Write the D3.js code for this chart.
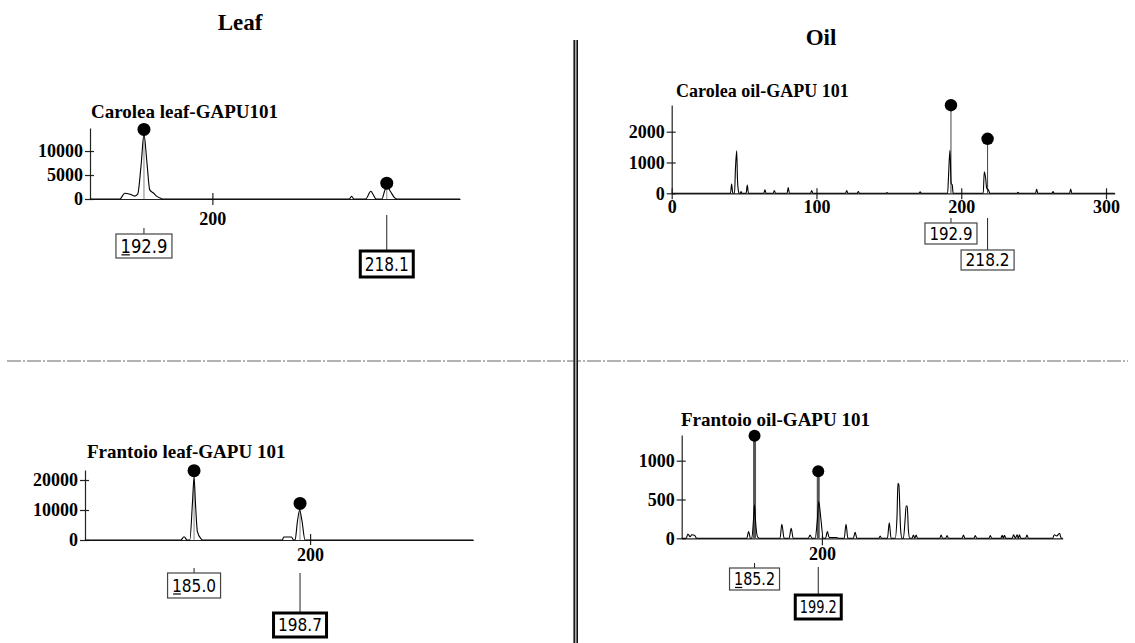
<!DOCTYPE html>
<html>
<head>
<meta charset="utf-8">
<script src="https://cdn.jsdelivr.net/npm/d3@7"></script>
<style>
body { margin: 0; background: #fff; }
svg { display: block; }
.tick text { font-family: "Liberation Serif", "Times New Roman", serif; font-weight: bold; font-size: 18px; fill: #000; }
.ttl { font-family: "Liberation Serif", "Times New Roman", serif; font-weight: bold; fill: #000; }
.lbl { font-family: "DejaVu Sans", Verdana, sans-serif; fill: #000; }
</style>
</head>
<body>
<svg id="fig" width="1135" height="643"></svg>
<script>
// column headers
var columnTitles = ["Leaf", "Oil"];

// Carolea leaf - GAPU101 (size bp, rfu)
var caroleaLeafTrace = [[187.3,0],[190.4,0],[190.9,1200],[191.45,1000],[191.95,600],[192.25,1000],[192.6,7000],[192.9,13500],[193.2,7800],[193.5,1900],[193.85,1300],[194.2,600],[194.7,100],[194.9,0],
  [214.2,0],[214.45,550],[214.7,0],[215.9,0],[216.45,1600],[216.7,900],[216.98,0],
  [217.6,0],[217.85,1500],[218.1,2700],[218.5,1500],[218.9,300],[219.2,0],[225.7,0]];
var caroleaLeafAlleles = [192.9, 218.1];
var caroleaLeafAlleleRfu = [14500, 3300];
var caroleaLeafLabels = ["192.9", "218.1"];
var caroleaLeafYTicks = [0, 5000, 10000];
var caroleaLeafXTicks = [200];

// Carolea oil - GAPU 101
var caroleaOilTrace = [[0,0],
  [40.6,0],[41.4,300],[42.2,0],
  [43.4,0],[44.0,760],[44.9,1380],[45.4,500],[46.0,100],[46.6,0],
  [47.4,0],[47.9,60],[48.4,0],
  [51.4,0],[52.2,270],[53.0,0],
  [63.6,0],[64.4,110],[65.2,0],
  [70.1,0],[70.9,90],[71.7,0],
  [79.7,0],[80.5,190],[81.3,0],
  [95.9,0],[96.7,90],[97.5,0],
  [120.1,0],[120.9,90],[121.7,0],
  [128.1,0],[128.9,60],[129.7,0],
  [147.9,0],[148.7,25],[149.5,0],
  [170.8,0],[171.6,45],[172.4,0],
  [190.6,0],[191.2,540],[192.2,1400],[193.0,330],[193.8,270],[194.4,0],
  [215.2,0],[215.9,700],[216.9,480],[217.6,160],[218.7,110],[219.9,0],
  [238.4,0],[239.2,30],[240.0,0],
  [251.3,0],[252.1,130],[252.9,0],
  [262.6,0],[263.4,55],[264.2,0],
  [274.8,0],[275.6,140],[276.4,0],[306,0]];
var caroleaOilAlleles = [192.9, 218.2];
var caroleaOilAlleleRfu = [2860, 1770];
var caroleaOilLabels = ["192.9", "218.2"];
var caroleaOilYTicks = [0, 1000, 2000];
var caroleaOilXTicks = [0, 100, 200, 300];

// Frantoio leaf - GAPU 101
var frantoioLeafTrace = [[170.9,0],
  [183.3,0],[183.7,1100],[184.1,0],
  [184.45,0],[184.8,12800],[185.0,21000],[185.17,12800],[185.43,2800],[185.9,400],[186.1,0],
  [196.4,0],[196.6,1000],[197.6,1000],[197.85,0],
  [198.06,0],[198.36,6100],[198.65,10000],[198.93,6700],[199.35,0],[221.1,0]];
var frantoioLeafAlleles = [185.0, 198.7];
var frantoioLeafAlleleRfu = [23100, 12200];
var frantoioLeafLabels = ["185.0", "198.7"];
var frantoioLeafYTicks = [0, 10000, 20000];
var frantoioLeafXTicks = [200];

// Frantoio oil - GAPU 101
var frantoioOilTrace = [[169.2,0],
  [170.2,0],[170.55,55],[171.05,20],[171.4,45],[172.0,40],[172.5,0],
  [183.5,0],[183.9,86],[184.3,0],
  [184.6,0],[184.97,236],[185.2,430],[185.4,236],[185.85,21],[186.3,0],
  [190.8,0],[191.2,180],[191.7,0],
  [192.8,0],[193.25,130],[193.7,0],
  [197.0,0],[197.4,43],[197.8,0],
  [198.5,0],[199.0,236],[199.3,473],[199.8,236],[200.3,0],
  [200.8,0],[201.2,86],[201.6,10],[203.3,10],[203.6,0],
  [204.9,0],[205.3,180],[205.7,0],
  [206.9,0],[207.3,77],[207.7,0],
  [212.5,0],[212.8,30],[213.1,0],
  [214.4,0],[214.8,200],[215.2,0],
  [216.1,0],[216.5,280],[216.7,710],[216.9,690],[217.3,107],[217.6,0],
  [217.9,0],[218.3,258],[218.5,417],[218.75,417],[219.0,107],[219.3,0],
  [219.8,0],[220.1,43],[220.4,0],[220.7,43],[221.0,0],
  [225.9,0],[226.2,43],[226.5,0],
  [227.2,0],[227.5,35],[227.8,0],
  [230.8,0],[231.1,43],[231.4,0],
  [233.4,0],[233.7,35],[234.0,0],
  [236.7,0],[237.0,35],[237.3,0],
  [239.3,0],[239.6,40],[239.85,0],[240.1,40],[240.4,0],
  [241.8,0],[242.1,45],[242.5,0],[242.9,45],[243.15,0],[243.4,45],[243.7,0],
  [244.75,0],[245.05,43],[245.35,0],
  [250.7,0],[251.05,45],[251.6,30],[252.2,65],[252.6,0],[252.9,0]];
var frantoioOilAlleles = [185.2, 199.2];
var frantoioOilAlleleRfu = [1320, 865];
var frantoioOilLabels = ["185.2", "199.2"];
var frantoioOilYTicks = [0, 500, 1000];
var frantoioOilXTicks = [200];

var svg = d3.select("#fig");

// panel setup
var panels = [
  {title: "Carolea leaf-GAPU101", tx: 91, ty: 118, ts: 19,
   left: 90, right: 460, base: 199, top: 128, xDomain: [187.3, 225.7], yMax: 14800,
   trace: caroleaLeafTrace, alleles: caroleaLeafAlleles, rfu: caroleaLeafAlleleRfu, labels: caroleaLeafLabels,
   yTicks: caroleaLeafYTicks, xTicks: caroleaLeafXTicks, up: 6, down: 6, pad: 7,
   r: 6.5, stemW: 1.2, stemC: "#999",
   boxes: [{top: 234, h: 24, w: 56, lead: 228, bold: false, ul: true, fs: 19},
           {top: 251, h: 26, w: 53, lead: 215, bold: true, ul: false, fs: 19}]},
  {title: "Carolea oil-GAPU 101", tx: 676, ty: 97, ts: 18,
   left: 671.7, right: 1114.7, base: 193.3, top: 105, xDomain: [0, 306], yMax: 2867,
   trace: caroleaOilTrace, alleles: caroleaOilAlleles, rfu: caroleaOilAlleleRfu, labels: caroleaOilLabels,
   yTicks: caroleaOilYTicks, xTicks: caroleaOilXTicks, up: 5, down: 6, pad: 1,
   r: 6.2, stemW: 1, stemC: "#444",
   boxes: [{top: 223, h: 21, w: 52, lead: 218, bold: false, ul: false, fs: 17},
           {top: 250, h: 20, w: 53, lead: 218, bold: false, ul: false, fs: 17}]},
  {title: "Frantoio leaf-GAPU 101", tx: 87, ty: 458, ts: 19,
   left: 85, right: 473.3, base: 540, top: 470, xDomain: [170.9, 221.1], yMax: 23333,
   trace: frantoioLeafTrace, alleles: frantoioLeafAlleles, rfu: frantoioLeafAlleleRfu, labels: frantoioLeafLabels,
   yTicks: frantoioLeafYTicks, xTicks: frantoioLeafXTicks, up: 6, down: 5, pad: 3,
   r: 6.5, stemW: 1.2, stemC: "#999",
   boxes: [{top: 573, h: 25, w: 53, lead: 568, bold: false, ul: true, fs: 18},
           {top: 613, h: 24, w: 53, lead: 573, bold: true, ul: false, fs: 18}]},
  {title: "Frantoio oil-GAPU 101", tx: 681, ty: 426, ts: 19,
   left: 681.7, right: 1062.7, base: 538.3, top: 435, xDomain: [169.2, 252.9], yMax: 1331,
   trace: frantoioOilTrace, alleles: frantoioOilAlleles, rfu: frantoioOilAlleleRfu, labels: frantoioOilLabels,
   yTicks: frantoioOilYTicks, xTicks: frantoioOilXTicks, up: 3, down: 7, pad: 2,
   r: 6, stemW: 3, stemC: "#555",
   boxes: [{top: 568, h: 22, w: 50, lead: 563, bold: false, ul: true, fs: 18},
           {top: 595, h: 24, w: 46, lead: 567, bold: true, ul: false, fs: 18}]}
];

// dividers
svg.append("line").attr("x1", 7).attr("x2", 1128).attr("y1", 361).attr("y2", 361)
  .attr("stroke", "#666").attr("stroke-width", 1.2).attr("stroke-dasharray", "14,2,2,2");
svg.append("rect").attr("x", 573.5).attr("y", 40).attr("width", 4.5).attr("height", 603).attr("fill", "#aaa");
[574.2, 577.3].forEach(function(xx) {
  svg.append("line").attr("x1", xx).attr("x2", xx).attr("y1", 40).attr("y2", 643)
    .attr("stroke", "#111").attr("stroke-width", 1.4);
});

// column headings
svg.append("text").attr("class", "ttl").attr("x", 240).attr("y", 30).attr("text-anchor", "middle")
  .style("font-size", "23px").text(columnTitles[0]);
svg.append("text").attr("class", "ttl").attr("x", 821).attr("y", 45).attr("text-anchor", "middle")
  .style("font-size", "23px").text(columnTitles[1]);

panels.forEach(function(p) {
  var g = svg.append("g");
  var x = d3.scaleLinear().domain(p.xDomain).range([p.left, p.right]);
  var y = d3.scaleLinear().domain([0, p.yMax]).range([p.base, p.top]);

  g.append("text").attr("class", "ttl").attr("x", p.tx).attr("y", p.ty)
    .style("font-size", p.ts + "px").text(p.title);

  var ya = g.append("g").attr("transform", "translate(" + p.left + ",0)")
    .call(d3.axisLeft(y).tickValues(p.yTicks).tickSize(5).tickSizeOuter(0).tickPadding(2).tickFormat(d3.format("d")));
  ya.selectAll(".tick line").attr("x1", 4);

  var xa = g.append("g").attr("transform", "translate(0," + p.base + ")")
    .call(d3.axisBottom(x).tickValues(p.xTicks).tickSize(p.down).tickSizeOuter(0).tickPadding(p.pad).tickFormat(d3.format("d")));
  xa.selectAll(".tick line").attr("y1", -p.up);
  g.selectAll(".domain, .tick line").attr("stroke", "#222").attr("stroke-width", 1.2);

  // allele stems
  p.alleles.forEach(function(a, i) {
    g.append("line").attr("x1", x(a)).attr("x2", x(a)).attr("y1", y(p.rfu[i])).attr("y2", p.base)
      .attr("stroke", p.stemC).attr("stroke-width", p.stemW);
  });

  var line = d3.line().x(function(d) { return x(d[0]); }).y(function(d) { return y(d[1]); })
    .curve(d3.curveMonotoneX);
  g.append("path").datum(p.trace).attr("d", line)
    .attr("fill", "none").attr("stroke", "#000").attr("stroke-width", 1.1);

  g.selectAll("circle.dot").data(p.alleles).enter().append("circle")
    .attr("cx", function(d) { return x(d); })
    .attr("cy", function(d, i) { return y(p.rfu[i]); })
    .attr("r", p.r).attr("fill", "#000");

  // size labels
  p.labels.forEach(function(t, i) {
    var b = p.boxes[i], cx = x(p.alleles[i]), tl = b.w - 9;
    var bx = cx - tl / 2, by = b.top + b.h / 2 + b.fs * 0.36;
    g.append("line").attr("x1", cx).attr("x2", cx).attr("y1", b.lead).attr("y2", b.top)
      .attr("stroke", "#222").attr("stroke-width", 1);
    g.append("rect").attr("x", cx - b.w / 2).attr("y", b.top).attr("width", b.w).attr("height", b.h)
      .attr("fill", "#fff").attr("stroke", b.bold ? "#000" : "#444").attr("stroke-width", b.bold ? 3 : 1.2);
    g.append("text").attr("class", "lbl").attr("x", bx).attr("y", by)
      .style("font-size", b.fs + "px").attr("textLength", tl).attr("lengthAdjust", "spacingAndGlyphs")
      .text(t);
    if (b.ul) {
      // first digit is underlined in the original
      g.append("line").attr("x1", bx + 1).attr("x2", bx + tl * 0.2).attr("y1", by + 2).attr("y2", by + 2)
        .attr("stroke", "#000").attr("stroke-width", 1.2);
    }
  });
});
</script>
</body>
</html>
